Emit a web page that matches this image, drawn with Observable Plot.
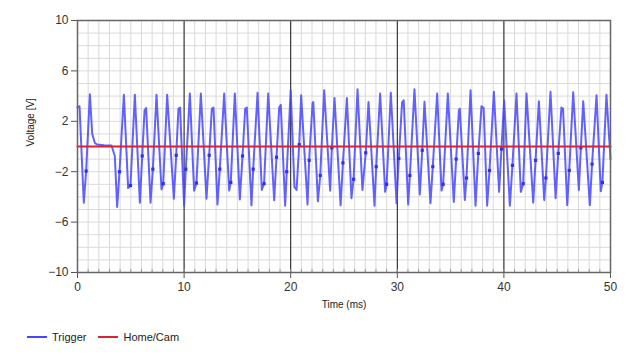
<!DOCTYPE html>
<html><head><meta charset="utf-8">
<script src="https://cdn.jsdelivr.net/npm/d3@7"></script>
<script src="https://cdn.jsdelivr.net/npm/@observablehq/plot@0.6"></script>
<style>
body{margin:0;background:#fff;font-family:"Liberation Sans",Arial,sans-serif;}
#chart{position:absolute;left:0;top:0;}
#legend{position:absolute;left:27px;top:331px;font-size:11px;color:#222;display:flex;align-items:center;}
#legend span.item{display:flex;align-items:center;margin-right:12px;}
.sw{display:inline-block;width:20px;height:2px;margin-right:5px;}
</style></head><body><div id="chart"></div><div id="legend"></div>
<script>
// ---- data ----
const triggerTime = [0,0.19,0.59,0.81,1.16,1.38,1.63,1.85,2.5,3.19,3.5,3.72,3.94,4.35,4.75,4.97,5.38,5.85,6.07,6.29,6.44,6.85,7.07,7.41,7.88,8.04,8.41,9.04,9.26,9.47,9.62,10.0,10.16,10.54,10.94,11.16,11.57,12.1,12.35,12.6,12.76,13.13,13.35,13.76,14.23,14.38,14.76,15.23,15.48,15.73,15.88,16.32,16.48,16.89,17.29,17.5,17.89,18.45,18.67,18.92,19.07,19.48,19.63,20.0,20.35,20.55,20.8,20.98,21.58,21.73,22.05,22.12,22.55,22.77,23.14,23.7,23.86,24.11,24.68,24.9,25.27,25.7,25.9,26.27,26.73,27.04,27.3,27.86,28.02,28.39,28.86,29.0,29.39,29.93,30.14,30.45,30.6,31.02,31.18,31.61,32.11,32.34,32.55,33.11,33.33,33.74,34.15,34.3,34.74,35.3,35.52,35.78,35.86,36.34,36.49,36.87,37.34,37.6,37.9,38.1,38.43,38.65,39.06,39.55,39.77,40.02,40.56,40.8,41.18,41.59,41.81,42.12,42.75,42.97,43.28,43.78,43.94,44.37,44.85,45.1,45.4,45.55,45.94,46.13,46.5,47.03,47.22,47.44,48.06,48.27,48.69,49.09,49.24,49.62,50];
const triggerVolt = [3.1,3.2,-4.46,-1.95,4.14,1.0,0.28,0.15,0.1,0.08,-0.75,-4.8,-2.0,4.1,-3.3,-3.1,4.1,-4.46,-0.75,2.87,3.05,-4.46,-1.8,4.1,-3.4,-2.95,4.1,-4.14,-0.7,3.0,3.1,-4.67,-1.8,4.2,-3.5,-2.9,4.2,-4.14,-0.7,3.0,3.1,-4.6,-1.8,4.2,-3.5,-2.85,4.2,-4.2,-0.75,3.0,3.1,-4.67,-1.8,4.27,-3.45,-2.95,4.2,-4.27,-0.85,3.1,3.3,-4.7,-2.0,4.46,-3.2,-3.45,0.15,4.06,-4.6,-1.1,3.45,3.53,-4.35,-2.3,4.46,-3.5,-0.1,3.85,-4.67,-1.3,3.85,-4.1,-2.6,4.54,-3.45,-0.5,3.53,-4.7,-1.6,4.2,-3.6,-3.0,4.27,-4.5,-0.95,3.5,3.66,-4.6,-2.3,4.54,-3.8,-0.3,3.55,-4.5,-1.6,4.2,-3.5,-3.0,4.2,-4.4,-1.0,2.9,3.0,-4.25,-2.5,4.46,-4.7,-0.55,3.2,3.05,-4.7,-1.9,4.35,-3.6,-0.2,3.66,-4.7,-1.5,4.2,-3.6,-2.95,4.2,-4.45,-1.1,3.6,-4.25,-2.5,4.35,-4.1,-0.55,3.1,3.0,-4.65,-1.9,4.3,-3.45,-0.1,3.6,-4.65,-1.4,4.06,-3.55,-2.85,4.1,-1.0];
const markerTime = [0.81,3.94,4.97,6.07,7.07,8.04,9.26,10.16,11.16,12.35,13.35,14.38,15.48,16.48,17.5,18.67,19.63,20.8,21.73,22.77,23.86,24.9,25.9,27.04,28.02,29.0,30.14,31.18,32.34,33.33,34.3,35.52,36.49,37.6,38.65,39.77,40.8,41.81,42.97,43.94,45.1,46.13,47.22,48.27,49.24];
const markerVolt = [-1.95,-2.0,-3.1,-0.75,-1.8,-2.95,-0.7,-1.8,-2.9,-0.7,-1.8,-2.85,-0.75,-1.8,-2.95,-0.85,-2.0,0.15,-1.1,-2.3,-0.1,-1.3,-2.6,-0.5,-1.6,-3.0,-0.95,-2.3,-0.3,-1.6,-3.0,-1.0,-2.5,-0.55,-1.9,-0.2,-1.5,-2.95,-1.1,-2.5,-0.55,-1.9,-0.1,-1.4,-2.85];
const homeTime = [0, 50];
const homeVolt = [0, 0];
const xMajorTicks = [0, 10, 20, 30, 40, 50];
const xBlackLines = [10, 20, 30, 40];
const yMajorTicks = [-10, -6, -2, 2, 6, 10];
const xMinor = d3.range(0, 51, 1);
const yMinor = d3.range(-10, 11, 1);
const seriesNames = ["Trigger", "Home/Cam"];
const seriesColors = ["#4646ff", "#dc2230"];

const trigger = triggerTime.map((t, i) => ({t, v: triggerVolt[i]}));
const markers = markerTime.map((t, i) => ({t, v: markerVolt[i]}));
const home = homeTime.map((t, i) => ({t, v: homeVolt[i]}));

const chart = Plot.plot({
  width: 640, height: 312,
  marginLeft: 77, marginRight: 30, marginTop: 20, marginBottom: 40,
  style: {fontFamily: "'Liberation Sans', Arial, sans-serif", fontSize: "12px", color: "#333", background: "#fff"},
  x: {domain: [0, 50]},
  y: {domain: [-10, 10]},
  marks: [
    Plot.ruleX(xMinor, {stroke: "#dadada", strokeWidth: 1}),
    Plot.ruleY(yMinor, {stroke: "#dadada", strokeWidth: 1}),
    Plot.ruleX(xBlackLines, {stroke: "#1a1a1a", strokeWidth: 1}),
    Plot.axisX({ticks: xMinor, tickSize: -3, tickFormat: () => "", label: null, stroke: "#999"}),
    Plot.axisX({ticks: xMajorTicks, tickSize: 6, tickPadding: 4, label: null, stroke: "#555", fontSize: 12}),
    Plot.axisY({ticks: yMajorTicks, tickSize: 6, tickPadding: 3, label: null, stroke: "#555", fontSize: 12}),
    Plot.text(["Time (ms)"], {frameAnchor: "bottom", dy: 35, fontSize: 10, fill: "#222"}),
    Plot.text(["Voltage [V]"], {frameAnchor: "left", dx: -47, rotate: -90, fontSize: 10, fill: "#222"}),
    Plot.line(trigger, {x: "t", y: "v", stroke: seriesColors[0], strokeWidth: 2, strokeOpacity: 0.85}),
    Plot.dot(markers, {x: "t", y: "v", symbol: "square", r: 1.8, fill: "#3030ee", stroke: "none"}),
    Plot.line(home, {x: "t", y: "v", stroke: seriesColors[1], strokeWidth: 2}),
    Plot.frame({stroke: "#666", strokeWidth: 1.5})
  ]
});
document.getElementById("chart").appendChild(chart);

const legend = document.getElementById("legend");
seriesNames.forEach((name, i) => {
  const item = document.createElement("span");
  item.className = "item";
  item.innerHTML = `<span class="sw" style="background:${seriesColors[i]}"></span>${name}`;
  legend.appendChild(item);
});
</script>
</body></html>
